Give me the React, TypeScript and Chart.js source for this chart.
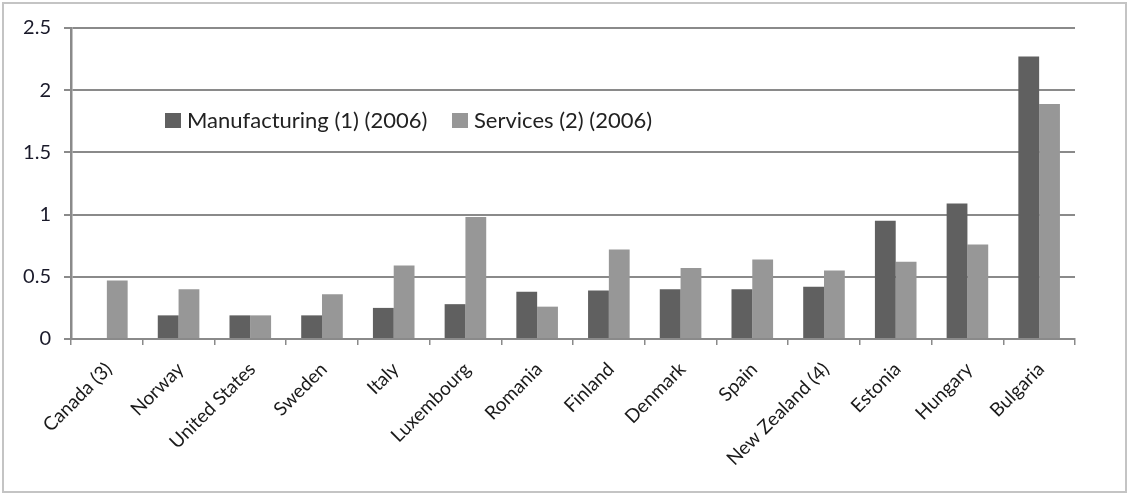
import React, { useEffect, useRef } from "react";
import { Chart, registerables } from "chart.js";

Chart.register(...registerables);

const categories = [
  "Canada (3)", "Norway", "United States", "Sweden", "Italy", "Luxembourg", "Romania",
  "Finland", "Denmark", "Spain", "New Zealand (4)", "Estonia", "Hungary", "Bulgaria",
];
const manufacturing = [0, 0.19, 0.19, 0.19, 0.25, 0.28, 0.38, 0.39, 0.4, 0.4, 0.42, 0.95, 1.09, 2.27];
const services = [0.47, 0.4, 0.19, 0.36, 0.59, 0.98, 0.26, 0.72, 0.57, 0.64, 0.55, 0.62, 0.76, 1.89];
const seriesLabels = ["Manufacturing (1) (2006)", "Services (2) (2006)"];
const yTicks = [0, 0.5, 1, 1.5, 2, 2.5];

const FONT = "Lato, 'Open Sans', sans-serif";

const legendPlugin = {
  id: "insideLegend",
  afterDraw(chart: any) {
    const ctx = chart.ctx;
    ctx.save();
    const positions = [165, 452];
    chart.data.datasets.forEach((ds: any, i: number) => {
      const x = positions[i];
      const y = 113;
      ctx.fillStyle = ds.backgroundColor;
      ctx.fillRect(x, y, 16, 15);
      ctx.fillStyle = "#222";
      ctx.font = `22px ${FONT}`;
      ctx.textBaseline = "middle";
      ctx.textAlign = "left";
      ctx.fillText(ds.label, x + 22, y + 7.5);
    });
    ctx.restore();
  },
};

export default function App() {
  const ref = useRef<HTMLCanvasElement>(null);
  useEffect(() => {
    if (!ref.current) return;
    const chart = new Chart(ref.current, {
      type: "bar",
      data: {
        labels: categories,
        datasets: [
          { label: seriesLabels[0], data: manufacturing, backgroundColor: "#606060", borderWidth: 0 },
          { label: seriesLabels[1], data: services, backgroundColor: "#979797", borderWidth: 0 },
        ],
      },
      options: {
        animation: false,
        responsive: false,
        devicePixelRatio: 1,
        layout: { padding: { top: 28, right: 53, left: 0, bottom: 0 } },
        datasets: { bar: { categoryPercentage: 0.58, barPercentage: 1.0 } },
        plugins: { legend: { display: false }, tooltip: { enabled: false } },
        scales: {
          x: {
            afterFit: (s: any) => { s.height = 156; },
            grid: { display: true, drawOnChartArea: false, offset: true, tickLength: 6, color: "#8a8a8a", lineWidth: 1.5 },
            border: { color: "#8a8a8a", width: 2 },
            ticks: {
              minRotation: 45, maxRotation: 45, autoSkip: false,
              color: "#1a1a1a", font: { family: FONT, size: 19 }, padding: 13, labelOffset: 2,
            },
          },
          y: {
            min: 0, max: 2.5,
            afterFit: (s: any) => { s.width = 71; },
            afterBuildTicks: (s: any) => { s.ticks = yTicks.map((v) => ({ value: v })); },
            grid: { color: "#8a8a8a", lineWidth: 2, tickLength: 7 },
            border: { color: "#8a8a8a", width: 2.5 },
            ticks: {
              color: "#1a1a2a", font: { family: FONT, size: 20 }, padding: 13,
              callback: (v: any) => String(v),
            },
          },
        },
      },
      plugins: [legendPlugin],
    });
    return () => chart.destroy();
  }, []);
  return (
    <div style={{ position: "fixed", left: 0, top: 0, width: 1128, height: 495, background: "#fff" }}>
      <canvas ref={ref} width={1128} height={495} style={{ display: "block" }} />
      <div
        style={{
          position: "absolute", left: 2, top: 2, width: 1121, height: 487,
          border: "2px solid #c4c4c4", pointerEvents: "none",
        }}
      />
    </div>
  );
}
